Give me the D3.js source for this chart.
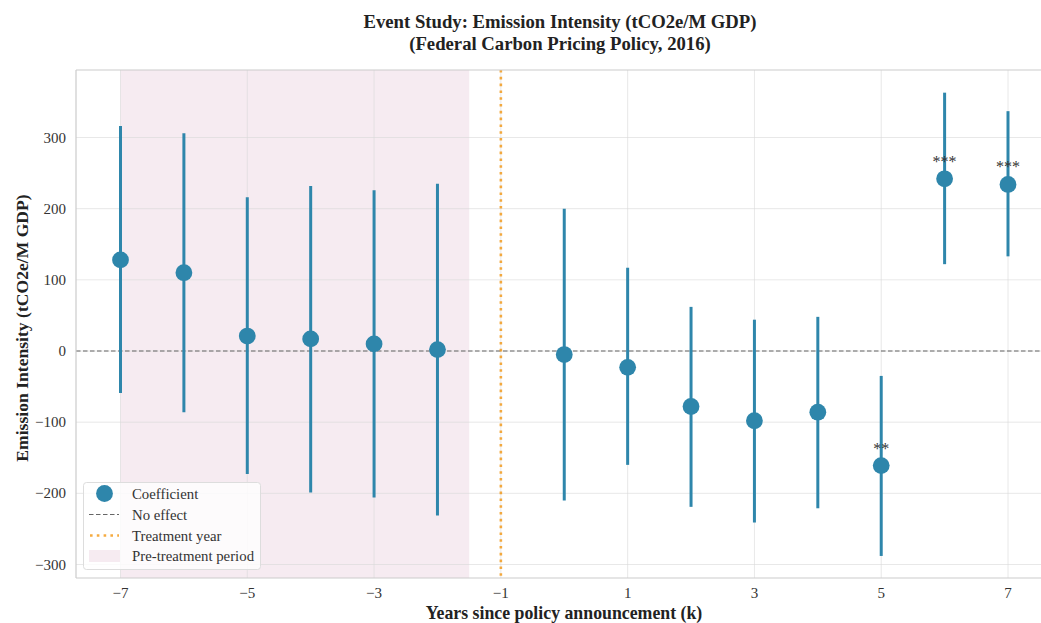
<!DOCTYPE html>
<html>
<head>
<meta charset="utf-8">
<script src="https://cdn.jsdelivr.net/npm/d3@7"></script>
<style>
  body { margin: 0; background: #fff; }
  svg { display: block; font-family: "Liberation Serif", "Times New Roman", serif; }
</style>
</head>
<body>
<svg id="chart" width="1041" height="623"></svg>
<script>
// ---- data ----
const years = [-7, -6, -5, -4, -3, -2, 0, 1, 2, 3, 4, 5, 6, 7];
const coef  = [128, 110, 21, 17, 10, 2, -5, -23, -78, -98, -86, -161, 242, 234];
const ciLow = [-59, -86, -173, -199, -206, -231, -210, -160, -219, -241, -221, -288, 122, 133];
const ciHigh= [316, 306, 216, 232, 226, 235, 200, 117, 62, 44, 48, -35, 363, 337];
const stars = ["", "", "", "", "", "", "", "", "", "", "", "**", "***", "***"];
const xTicks = [-7, -5, -3, -1, 1, 3, 5, 7];
const yTicks = [-300, -200, -100, 0, 100, 200, 300];
const preStart = -7, preEnd = -1.5, treatYear = -1;

(function () {
const svg = d3.select("#chart");
const pL = 76, pT = 70, pB = 578;
const x = d3.scaleLinear().domain([-7, 7]).range([120.5, 1008]);
const pR = x(7.7);
const y = d3.scaleLinear().domain([-300, 300]).range([564.5, 137.5]);

const g = svg.append("g");

// pre-treatment span
g.append("rect").attr("x", x(preStart)).attr("y", pT)
  .attr("width", x(preEnd) - x(preStart)).attr("height", pB - pT)
  .attr("fill", "#A23B72").attr("fill-opacity", 0.1);

// grid
const gridColor = "#d9d9d9";
g.selectAll(".gx").data(xTicks).join("line")
  .attr("x1", d => x(d)).attr("x2", d => x(d)).attr("y1", pT).attr("y2", pB)
  .attr("stroke", gridColor).attr("stroke-opacity", 0.6).attr("stroke-width", 1);
g.selectAll(".gy").data(yTicks).join("line")
  .attr("x1", pL).attr("x2", pR).attr("y1", d => y(d)).attr("y2", d => y(d))
  .attr("stroke", gridColor).attr("stroke-opacity", 0.6).attr("stroke-width", 1);

// zero line
g.append("line").attr("x1", pL).attr("x2", pR).attr("y1", y(0)).attr("y2", y(0))
  .attr("stroke", "#555").attr("stroke-opacity", 0.9).attr("stroke-width", 1.2)
  .attr("stroke-dasharray", "4.5,2.5");

// treatment line
g.append("line").attr("x1", x(treatYear)).attr("x2", x(treatYear)).attr("y1", pT).attr("y2", pB)
  .attr("stroke", "#F18F01").attr("stroke-opacity", 0.75).attr("stroke-width", 2.6)
  .attr("stroke-dasharray", "2.6,4.2");

// error bars
g.selectAll(".eb").data(years).join("line")
  .attr("x1", d => x(d)).attr("x2", d => x(d))
  .attr("y1", (d, i) => y(ciLow[i])).attr("y2", (d, i) => y(ciHigh[i]))
  .attr("stroke", "#2E86AB").attr("stroke-width", 3);

// points
g.selectAll(".pt").data(years).join("circle")
  .attr("cx", d => x(d)).attr("cy", (d, i) => y(coef[i])).attr("r", 8.4)
  .attr("fill", "#2E86AB");

// stars
g.selectAll(".st").data(years).join("text")
  .attr("x", d => x(d)).attr("y", (d, i) => y(coef[i]) - 12)
  .attr("text-anchor", "middle").attr("font-size", 16).attr("fill", "#333")
  .text((d, i) => stars[i]);

// spines
const sp = [[pL, pT, pR, pT], [pL, pB, pR, pB], [pL, pT, pL, pB], [pR, pT, pR, pB]];
g.selectAll(".sp").data(sp).join("line")
  .attr("x1", d => d[0]).attr("y1", d => d[1]).attr("x2", d => d[2]).attr("y2", d => d[3])
  .attr("stroke", "#ccc").attr("stroke-width", 1.2);

// tick labels
const fmt = d => d < 0 ? "\u2212" + Math.abs(d) : String(d);
g.selectAll(".xt").data(xTicks).join("text")
  .attr("x", d => x(d)).attr("y", 598).attr("text-anchor", "middle")
  .attr("font-size", 15).attr("fill", "#333").text(fmt);
g.selectAll(".yt").data(yTicks).join("text")
  .attr("x", 66).attr("y", d => y(d) + 5).attr("text-anchor", "end")
  .attr("font-size", 15).attr("fill", "#333").text(fmt);

// axis labels
svg.append("text").attr("x", 564).attr("y", 619).attr("text-anchor", "middle")
  .attr("font-size", 17.8).attr("font-weight", "bold").attr("fill", "#222")
  .text("Years since policy announcement (k)");
svg.append("text").attr("transform", `translate(28,328) rotate(-90)`)
  .attr("text-anchor", "middle").attr("font-size", 17.6).attr("font-weight", "bold").attr("fill", "#222")
  .text("Emission Intensity (tCO2e/M GDP)");

// title
const title = svg.append("text").attr("text-anchor", "middle").attr("font-size", 18.7)
  .attr("font-weight", "bold").attr("fill", "#222");
title.append("tspan").attr("x", 560).attr("y", 28).text("Event Study: Emission Intensity (tCO2e/M GDP)");
title.append("tspan").attr("x", 560).attr("y", 50).text("(Federal Carbon Pricing Policy, 2016)");

// legend
const lg = svg.append("g").attr("transform", "translate(83,482)");
lg.append("rect").attr("x", 0.5).attr("y", 0.5).attr("width", 177).attr("height", 87).attr("rx", 3)
  .attr("fill", "#fff").attr("fill-opacity", 0.8).attr("stroke", "#ddd").attr("stroke-width", 1);
const items = ["Coefficient", "No effect", "Treatment year", "Pre-treatment period"];
const rowY = [11.5, 32.5, 53.5, 74];
lg.append("circle").attr("cx", 21.5).attr("cy", rowY[0]).attr("r", 8.4).attr("fill", "#2E86AB");
lg.append("line").attr("x1", 6).attr("x2", 36).attr("y1", rowY[1]).attr("y2", rowY[1])
  .attr("stroke", "#555").attr("stroke-opacity", 0.9).attr("stroke-width", 1.2).attr("stroke-dasharray", "4.5,2.5");
lg.append("line").attr("x1", 7).attr("x2", 36).attr("y1", rowY[2]).attr("y2", rowY[2])
  .attr("stroke", "#F18F01").attr("stroke-opacity", 0.75).attr("stroke-width", 2.6).attr("stroke-dasharray", "2.6,4.2");
lg.append("rect").attr("x", 6).attr("y", rowY[3] - 6).attr("width", 31).attr("height", 12)
  .attr("fill", "#A23B72").attr("fill-opacity", 0.1);
lg.selectAll(".lt").data(items).join("text")
  .attr("x", 49).attr("y", (d, i) => rowY[i] + 5).attr("font-size", 14.8).attr("fill", "#333").text(d => d);
})();
</script>
</body>
</html>
